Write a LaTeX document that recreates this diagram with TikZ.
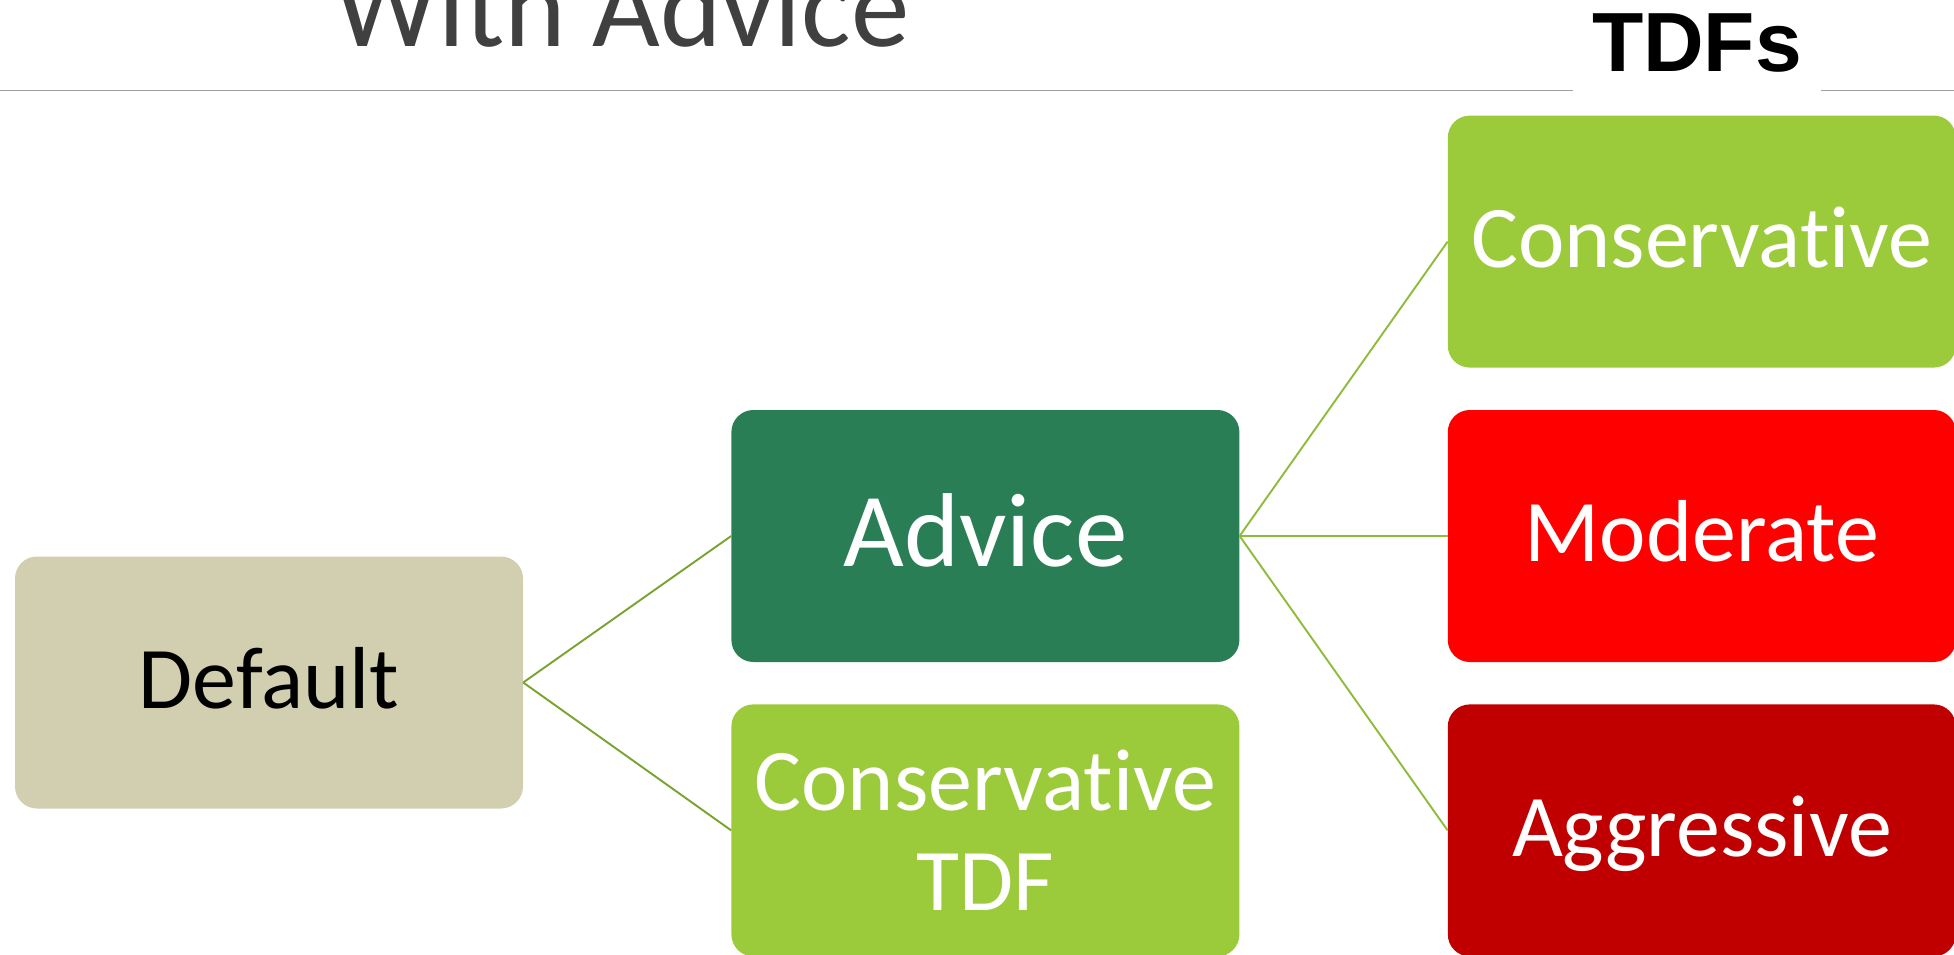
\documentclass[tikz,border=0pt]{standalone}
\usepackage{fontspec}
\setmainfont{Carlito}[Ligatures=NoCommon]
\newfontfamily\headfont{Liberation Sans}
\usetikzlibrary{positioning}
\definecolor{tanbox}{RGB}{210,206,176}
\definecolor{advgreen}{RGB}{42,126,86}
\definecolor{limegreen}{RGB}{155,203,58}
\definecolor{modred}{RGB}{255,0,0}
\definecolor{aggred}{RGB}{192,0,0}
\definecolor{linkolive}{RGB}{119,163,46}
\definecolor{linklime}{RGB}{141,188,58}
\definecolor{rulegray}{RGB}{160,160,160}
\definecolor{titlegray}{RGB}{64,64,64}

\begin{document}
\begin{tikzpicture}[
  x=1pt, y=-1pt,
  stage/.style={rounded corners=22pt, align=center, inner sep=0pt, minimum width=508pt, minimum height=252pt, text=white, font=\fontsize{88}{100}\selectfont},
  oneline/.style={text height=66pt, text depth=14.4pt},
  link/.style={line width=1.9pt},
  node distance=42pt and 208pt
]
\useasboundingbox (0,0) rectangle (1954,955);
\node[anchor=base, text=titlegray, font=\fontsize{117}{120}\selectfont] (title) at (622,47) {With Advice};
\draw[rulegray, line width=1.6pt] (0,90.7) -- (1954,90.7);
\node[anchor=base, fill=white, inner xsep=19pt, inner ysep=20pt, font=\headfont\bfseries\fontsize{84}{90}\selectfont] (tdfs) at (1697,72) {TDFs};

\node[stage, oneline, fill=tanbox, text=black] (def) at (269,682.5) {Default};
\node[stage, fill=advgreen, right=of def, yshift=146.5pt, font=\fontsize{105}{110}\selectfont, text height=75pt, text depth=15pt] (adv) {Advice};
\node[stage, fill=limegreen, below=of adv] (ctdf) {Conservative\\TDF};
\node[stage, oneline, fill=modred, right=of adv] (mod) {Moderate};
\node[stage, oneline, fill=limegreen, above=of mod] (cons) {Conservative};
\node[stage, oneline, fill=aggred, below=of mod] (agg) {Aggressive};

\draw[link, linkolive] (def.east) -- (adv.west);
\draw[link, linkolive] (def.east) -- (ctdf.west);
\draw[link, linklime] (adv.east) -- (cons.west);
\draw[link, linklime] (adv.east) -- (mod.west);
\draw[link, linklime] (adv.east) -- (agg.west);
\end{tikzpicture}
\end{document}
